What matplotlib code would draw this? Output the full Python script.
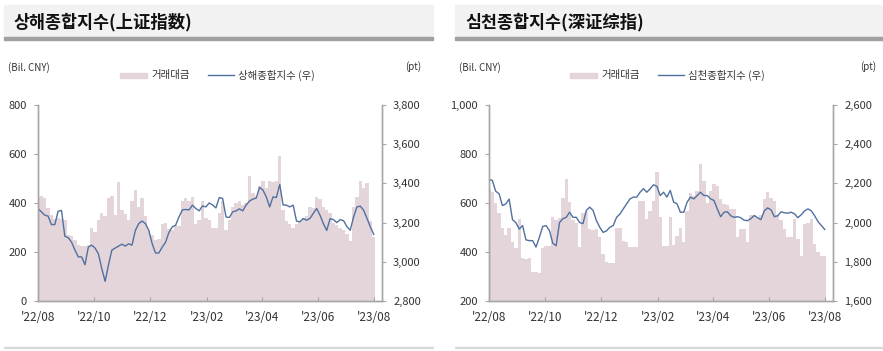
import matplotlib
matplotlib.use("Agg")
import matplotlib.pyplot as plt
import pandas as pd
from matplotlib.patches import Rectangle
from matplotlib.lines import Line2D

plt.rcParams["font.family"] = ["Noto Sans CJK KR", "DejaVu Sans"]

# 101 sample dates spread over the year shown
dates = pd.date_range("2022-08-01", "2023-08-01", periods=101)

tick_dates = pd.to_datetime(["2022-08-01", "2022-10-01", "2022-12-01", "2023-02-01",
                             "2023-04-01", "2023-06-01", "2023-08-01"])
tick_labels = ["'22/08", "'22/10", "'22/12", "'23/02", "'23/04", "'23/06", "'23/08"]

# Shanghai: trading value (Bil. CNY, left) and composite index (pt, right)
sh_value = [425, 430, 420, 380, 350, 335, 340, 335, 330, 270,
            265, 250, 230, 225, 225, 228, 300, 280, 330, 360,
            345, 420, 430, 350, 485, 370, 355, 330, 410, 455,
            385, 420, 345, 290, 270, 250, 255, 315, 320, 295,
            290, 310, 305, 410, 420, 410, 425, 315, 330, 410,
            340, 330, 300, 300, 360, 410, 290, 330, 385, 400,
            410, 390, 400, 510, 440, 430, 470, 490, 460, 490,
            485, 490, 590, 370, 325, 315, 300, 315, 325, 340,
            345, 385, 380, 425, 415, 385, 370, 360, 320, 310,
            300, 290, 275, 245, 385, 425, 490, 460, 480, 325,
            262]
sh_index = [3272, 3255, 3238, 3233, 3190, 3190, 3258, 3262, 3130, 3123,
            3100, 3060, 3025, 3025, 2985, 3075, 3085, 3070, 3040, 2965,
            2900, 2985, 3060, 3070, 3080, 3090, 3080, 3092, 3085, 3160,
            3195, 3208, 3195, 3160, 3093, 3045, 3045, 3075, 3100, 3150,
            3178, 3187, 3229, 3265, 3267, 3265, 3289, 3272, 3260, 3285,
            3280, 3300, 3290, 3275, 3328, 3323, 3229, 3226, 3255, 3260,
            3270, 3260, 3290, 3310, 3320, 3325, 3380, 3366, 3331, 3280,
            3331, 3328, 3395, 3290, 3289, 3280, 3289, 3208, 3204, 3221,
            3212, 3221, 3247, 3272, 3238, 3195, 3160, 3220, 3215, 3200,
            3215, 3210, 3180, 3161, 3229, 3280, 3284, 3263, 3221, 3178,
            3140]

# Shenzhen: trading value (Bil. CNY, left) and composite index (pt, right)
sz_value = [658, 644, 600, 560, 500, 470, 500, 440, 415, 535,
            375, 370, 375, 320, 318, 316, 415, 425, 425, 542,
            530, 540, 620, 700, 605, 530, 520, 420, 560, 565,
            495, 490, 495, 460, 390, 360, 355, 357, 500, 500,
            445, 440, 420, 419, 420, 610, 610, 535, 569, 610,
            726, 542, 425, 425, 542, 430, 467, 500, 440, 569,
            640, 630, 650, 760, 690, 600, 651, 679, 670, 617,
            597, 590, 576, 576, 460, 494, 494, 439, 549, 549,
            540, 549, 617, 644, 620, 610, 549, 530, 494, 460,
            460, 535, 453, 385, 515, 520, 535, 432, 398, 385,
            385]
sz_index = [2220, 2215, 2160, 2147, 2087, 2095, 2120, 2015, 2000, 1967,
            1985, 1912, 1908, 1908, 1875, 1925, 1980, 1985, 1960, 1895,
            1882, 2000, 2020, 2027, 2053, 2027, 2027, 2000, 1995, 2062,
            2079, 2062, 2010, 1976, 1950, 1958, 1976, 1985, 2027, 2044,
            2070, 2096, 2121, 2130, 2130, 2155, 2173, 2155, 2173, 2193,
            2185, 2138, 2155, 2130, 2164, 2104, 2096, 2053, 2053, 2104,
            2130, 2121, 2138, 2155, 2138, 2138, 2121, 2113, 2070, 2030,
            2053, 2055, 2035, 2027, 2030, 2025, 2012, 2010, 2020, 2036,
            2025, 2015, 2060, 2075, 2065, 2030, 2035, 2055, 2050, 2048,
            2053, 2045, 2025, 2040, 2060, 2070, 2060, 2035, 2005, 1985,
            1965]

BAR_COLOR = "#e4d5da"
LINE_COLOR = "#50709f"
SPINE_COLOR = "#a6a6a6"
TEXT_COLOR = "#333333"

fig = plt.figure(figsize=(8.83, 3.51), dpi=100)
W, H = 883, 351


def px(x0, y0, x1, y1):
    # pixel box (top-left origin) -> figure fraction rect
    return [x0 / W, 1 - y1 / H, (x1 - x0) / W, (y1 - y0) / H]


def draw_panel(left, title, idx_name, values, index, vlim, vticks, ilim, iticks,
               legend_x, right_unit_x):
    # title strip
    fig.patches.append(Rectangle((left / W, 1 - 37 / H), 429 / W, 32 / H,
                                 transform=fig.transFigure, color="#f2f2f2", zorder=0))
    fig.patches.append(Rectangle((left / W, 1 - 40 / H), 429 / W, 3.5 / H,
                                 transform=fig.transFigure, color="#a0a0a0", zorder=0))
    fig.text((left + 10) / W, 1 - 22 / H, title, fontsize=12.5, fontweight="bold",
             va="center", ha="left", color="#111111")
    # bottom divider
    fig.patches.append(Rectangle((left / W, 1 - 348 / H), 429 / W, 1.5 / H,
                                 transform=fig.transFigure, color="#d9d9d9", zorder=0))

    fig.text((left + 4) / W, 1 - 68 / H, "(Bil. CNY)", fontsize=7, color=TEXT_COLOR,
             va="center")
    fig.text(right_unit_x / W, 1 - 67 / H, "(pt)", fontsize=7, color=TEXT_COLOR,
             va="center")

    # legend
    fig.patches.append(Rectangle((legend_x / W, 1 - 78 / H), 27 / W, 5 / H,
                                 transform=fig.transFigure, color=BAR_COLOR))
    fig.text((legend_x + 31) / W, 1 - 75 / H, "거래대금", fontsize=7.5,
             color=TEXT_COLOR, va="center")
    fig.lines.append(Line2D([(legend_x + 88) / W, (legend_x + 114) / W],
                            [1 - 74.5 / H, 1 - 74.5 / H], transform=fig.transFigure,
                            color=LINE_COLOR, lw=1))
    fig.text((legend_x + 118) / W, 1 - 75 / H, idx_name, fontsize=7.5,
             color=TEXT_COLOR, va="center")

    ax = fig.add_axes(px(left + 34, 105, left + 378, 301))
    step = (dates[1] - dates[0]).total_seconds() / 86400
    ax.bar(dates, values, width=step, color=BAR_COLOR, linewidth=0, align="center")
    ax.set_ylim(*vlim)
    ax.set_yticks(vticks)
    ax.set_yticklabels([f"{v:,}" for v in vticks])
    ax.set_xlim(pd.Timestamp("2022-08-01"), pd.Timestamp("2023-08-10"))
    ax.set_xticks(tick_dates)
    ax.set_xticklabels(tick_labels)

    ax2 = ax.twinx()
    ax2.plot(dates, index, color=LINE_COLOR, lw=1)
    ax2.set_ylim(*ilim)
    ax2.set_yticks(iticks)
    ax2.set_yticklabels([f"{v:,}" for v in iticks])

    for a in (ax, ax2):
        a.spines["top"].set_visible(False)
        for s in ("left", "right", "bottom"):
            a.spines[s].set_color(SPINE_COLOR)
            a.spines[s].set_linewidth(1)
        a.tick_params(labelsize=8, colors=TEXT_COLOR, length=3, width=0.8)
        a.tick_params(axis="y", colors=SPINE_COLOR, labelcolor=TEXT_COLOR, pad=5)
        a.tick_params(axis="x", direction="in", colors=SPINE_COLOR,
                      labelcolor=TEXT_COLOR, pad=7, labelsize=8.5)
    return ax, ax2


draw_panel(4, "상해종합지수(上证指数)", "상해종합지수 (우)", sh_value, sh_index,
           (0, 800), [0, 200, 400, 600, 800], (2800, 3800),
           [2800, 3000, 3200, 3400, 3600, 3800], 120, 405)
draw_panel(455, "심천종합지수(深证综指)", "심천종합지수 (우)", sz_value, sz_index,
           (200, 1000), [200, 400, 600, 800, 1000], (1600, 2600),
           [1600, 1800, 2000, 2200, 2400, 2600], 570, 860)

fig.savefig("out.png", dpi=100)
